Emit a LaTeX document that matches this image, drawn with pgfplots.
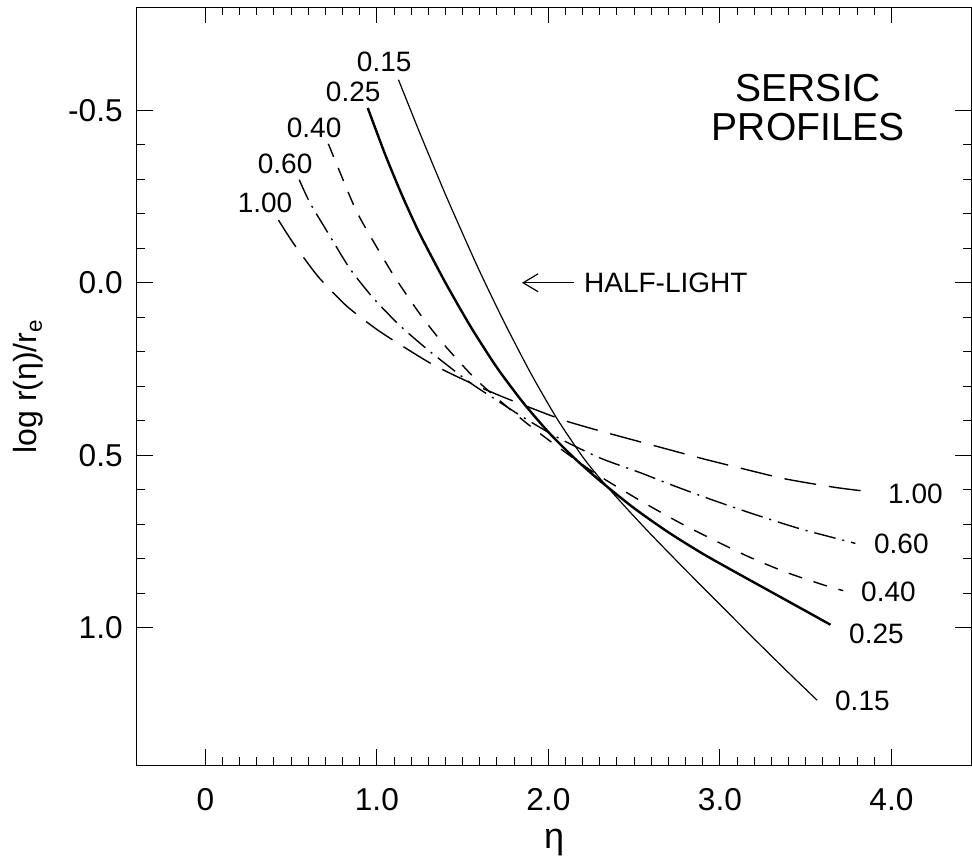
\documentclass[border=0pt]{standalone}
\usepackage{pgfplots}
\pgfplotsset{compat=1.18}
\usepackage{fontspec}
\setmainfont{Liberation Sans}
\usetikzlibrary{arrows.meta}

\begin{document}
\begin{tikzpicture}
\path[use as bounding box] (-68.35pt,-48pt) rectangle (417.4pt,382.5pt);
\begin{axis}[
  at={(0pt,0pt)}, anchor=south west,
  scale only axis, width=417.15pt, height=379pt,
  xmin=-0.4, xmax=4.467, ymin=-0.8, ymax=1.4, y dir=reverse,
  clip=false,
  axis line style={line width=0.5pt},
  every tick/.style={line width=0.5pt, black},
  major tick length=8pt, minor tick length=4pt,
  xtick={0,1,2,3,4}, xticklabels={0,1.0,2.0,3.0,4.0},
  ytick={-0.5,0,0.5,1}, yticklabels={-0.5,0.0,0.5,1.0},
  minor x tick num=9, minor y tick num=4,
  tick pos=both, tick align=inside,
  xticklabel style={font=\fontsize{15.8}{17}\selectfont, anchor=north, inner sep=0pt, yshift=-11.35pt},
  yticklabel style={font=\fontsize{15.8}{17}\selectfont, anchor=east, inner sep=0pt, xshift=-6.85pt},
]
% 1/n = 0.15
\addplot[black, line width=0.6pt, smooth, tension=0.4] coordinates {
(1.126,-0.589)(1.250,-0.435)(1.400,-0.256)(1.550,-0.087)(1.626,-0.005)(1.750,0.122)(1.900,0.265)(2.050,0.394)(2.200,0.505)(2.303,0.569)(2.450,0.651)(2.600,0.731)(2.800,0.833)(3.000,0.933)(3.200,1.033)(3.400,1.131)(3.567,1.211)
};
% 1/n = 0.25
\addplot[black, line width=1.2pt, smooth, tension=0.4] coordinates {
(0.947,-0.507)(1.050,-0.370)(1.150,-0.250)(1.250,-0.142)(1.400,0.000)(1.550,0.130)(1.700,0.246)(1.850,0.346)(2.000,0.433)(2.150,0.508)(2.300,0.574)(2.500,0.654)(2.700,0.724)(2.900,0.786)(3.100,0.842)(3.300,0.897)(3.500,0.952)(3.645,0.992)
};
% 1/n = 0.40
\addplot[black, line width=0.7pt, smooth, tension=0.4, dash pattern=on 7pt off 6pt] coordinates {
(0.717,-0.403)(0.864,-0.226)(0.941,-0.153)(1.097,-0.022)(1.253,0.092)(1.389,0.178)(1.583,0.283)(1.850,0.398)(2.050,0.474)(2.270,0.552)(2.536,0.632)(2.769,0.697)(2.984,0.751)(3.178,0.797)(3.392,0.841)(3.626,0.880)(3.719,0.893)
};
% 1/n = 0.60
\addplot[black, line width=0.7pt, smooth, tension=0.4, dash pattern=on 11pt off 3.5pt on 1pt off 3.5pt] coordinates {
(0.547,-0.299)(0.611,-0.231)(0.728,-0.134)(0.844,-0.040)(0.980,0.045)(1.136,0.125)(1.311,0.200)(1.544,0.290)(1.700,0.341)(1.836,0.385)(2.050,0.448)(2.300,0.508)(2.536,0.551)(2.711,0.585)(2.945,0.628)(3.197,0.671)(3.470,0.714)(3.790,0.756)
};
% 1/n = 1.00
\addplot[black, line width=0.7pt, smooth, tension=0.4, dash pattern=on 16pt off 6.5pt] coordinates {
(0.426,-0.182)(0.514,-0.114)(0.659,-0.017)(0.825,0.068)(1.019,0.142)(1.311,0.233)(1.544,0.290)(1.749,0.334)(2.079,0.397)(2.303,0.430)(2.614,0.472)(2.905,0.511)(3.139,0.540)(3.382,0.569)(3.664,0.593)(3.820,0.603)
};

\begin{scope}[every node/.style={font=\fontsize{14}{16}\selectfont, inner sep=0pt}]
\node at (axis cs:1.043,-0.642) {0.15};
\node at (axis cs:0.862,-0.554) {0.25};
\node at (axis cs:0.634,-0.450) {0.40};
\node at (axis cs:0.465,-0.345) {0.60};
\node at (axis cs:0.348,-0.232) {1.00};
\node at (axis cs:4.140,0.611) {1.00};
\node at (axis cs:4.058,0.757) {0.60};
\node at (axis cs:3.983,0.896) {0.40};
\node at (axis cs:3.913,1.018) {0.25};
\node at (axis cs:3.831,1.213) {0.15};
\end{scope}

\node[font=\fontsize{19.5}{19.5}\selectfont, align=center, inner sep=0pt] at (axis cs:3.516,-0.5075) {SERSIC\\PROFILES};

\draw[line width=0.6pt, -{Straight Barb[length=7.5pt, width=9pt, line width=0.6pt]}] (axis cs:2.147,0) -- (axis cs:1.846,0);
\node[font=\fontsize{14}{16}\selectfont, anchor=west, inner sep=0pt] at (axis cs:2.206,0) {HALF-LIGHT};

\node[font=\fontsize{16}{18}\selectfont, rotate=90, anchor=base, inner sep=0pt] at (axis description cs:-0.1199,0.5) {log r(η)/r\textsubscript{e}};
\node[font=\fontsize{18}{20}\selectfont, anchor=base, inner sep=0pt] at (axis description cs:0.5,-0.1091) {η};
\end{axis}
\end{tikzpicture}
\end{document}
